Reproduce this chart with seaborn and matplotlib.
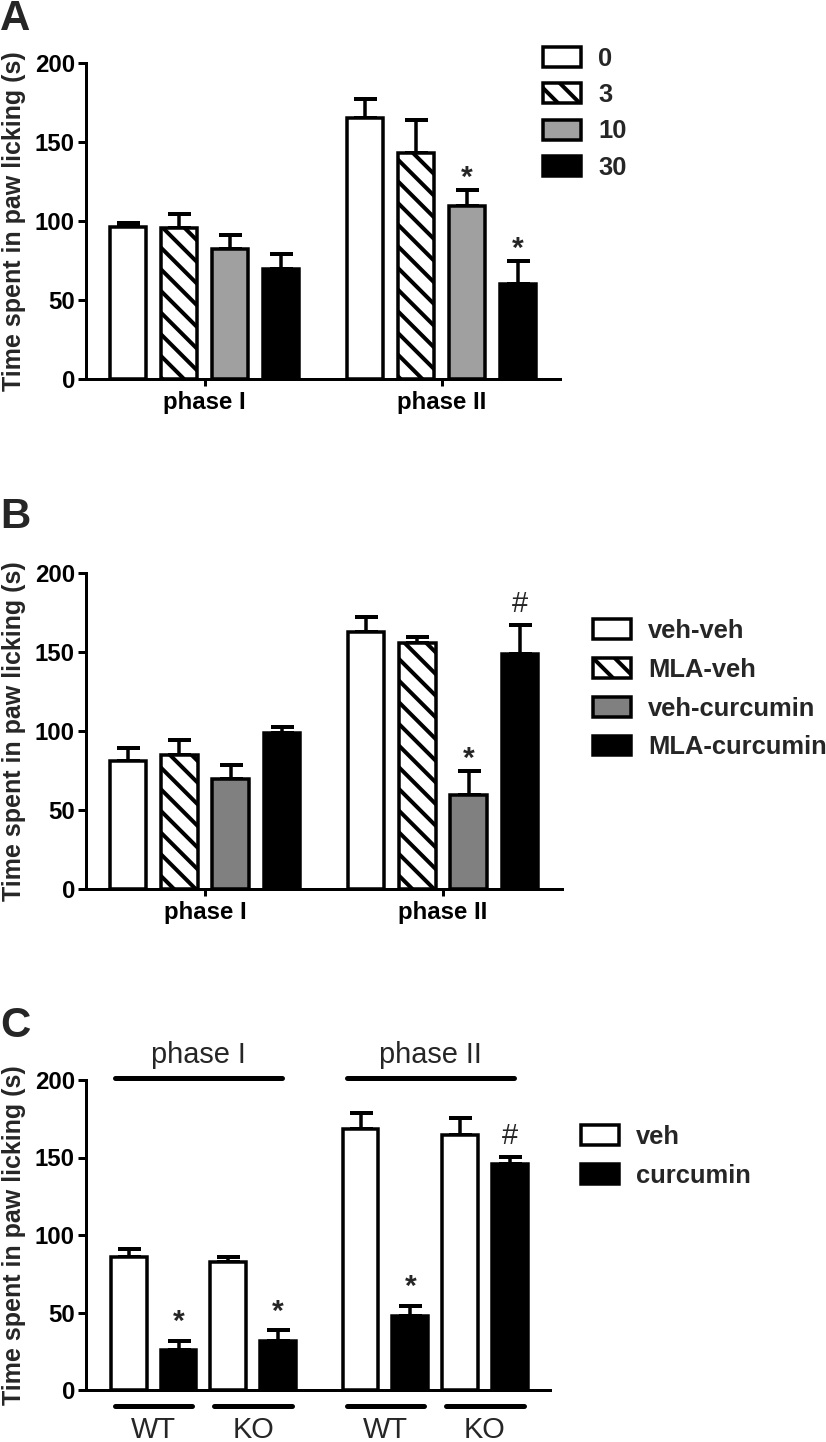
import numpy as np
import pandas as pd
import matplotlib
matplotlib.use('Agg')
import matplotlib.pyplot as plt
from matplotlib.patches import Patch
import seaborn as sns

# ── data ────────────────────────────────────────────────────────────────────
phases = ['phase I', 'phase II']

# panel A: curcumin dose (mg/kg)
doses = ['0', '3', '10', '30']
a_mean_p1 = [96, 95.5, 82, 69.5]
a_mean_p2 = [165, 143, 109.5, 60]
a_sem_p1 = [3, 9, 9, 9.5]
a_sem_p2 = [12, 21, 10, 14.5]
a_marks_p2 = ['', '', '*', '*']

# panel B: MLA pretreatment
treat_b = ['veh-veh', 'MLA-veh', 'veh-curcumin', 'MLA-curcumin']
b_mean_p1 = [81, 84.5, 69.5, 98.5]
b_mean_p2 = [162.5, 155.5, 59.5, 149]
b_sem_p1 = [8.5, 10, 9, 4]
b_sem_p2 = [9.5, 4, 15, 18]
b_marks_p2 = ['', '', '*', '#']

# panel C: WT vs KO, groups = WT/KO in phase I, WT/KO in phase II
treat_c = ['veh', 'curcumin']
c_phase = ['phase I', 'phase I', 'phase II', 'phase II']
c_geno = ['WT', 'KO', 'WT', 'KO']
c_veh_mean = [86, 82.5, 168.5, 164.5]
c_cur_mean = [25.5, 31.5, 48, 145.5]
c_veh_sem = [5, 3.5, 10, 11]
c_cur_sem = [6, 7, 6.5, 5]
c_cur_marks = ['*', '*', '*', '#']

# ── style ───────────────────────────────────────────────────────────────────
DPI = 130
W, H = 826, 1442


def pt(px):
    return px * 72 / DPI


sns.set_theme(style='ticks')
plt.rcParams['font.family'] = ['Liberation Sans', 'DejaVu Sans']
plt.rcParams.update({
    'font.weight': 'bold',
    'axes.labelweight': 'bold',
    'axes.linewidth': pt(3),
    'hatch.linewidth': pt(4),
    'xtick.major.width': pt(3),
    'ytick.major.width': pt(3),
    'xtick.color': 'black',
    'ytick.color': 'black',
    'axes.edgecolor': 'black',
})

EDGE = pt(3.5)
HATCH = '\\\\'
fig = plt.figure(figsize=(W / DPI, H / DPI), dpi=DPI)


def add_axes(left, top, right, bottom):
    return fig.add_axes([left / W, 1 - bottom / H, (right - left) / W, (bottom - top) / H])


def style_y(ax, width_px):
    sns.despine(ax=ax)
    ax.set_ylim(0, 200)
    ax.set_yticks([0, 50, 100, 150, 200])
    ax.tick_params(axis='y', labelsize=pt(24), pad=pt(3), length=pt(8))
    ax.set_ylabel('Time spent in paw licking (s)', fontsize=pt(25))
    ax.yaxis.set_label_coords(-60 / width_px, 0.5)


def add_errors(ax, sems):
    for cont, s in zip(ax.containers, sems):
        xs = [b.get_x() + b.get_width() / 2 for b in cont]
        hs = [b.get_height() for b in cont]
        ax.errorbar(xs, hs, yerr=[np.zeros(len(s)), s], fmt='none', ecolor='black',
                    elinewidth=pt(3.5), capsize=pt(11.5), capthick=pt(4), zorder=0.5)


def add_marks(ax, cont, means, sems, marks, star_off, hash_off):
    for b, m, s, mk in zip(cont, means, sems, marks):
        if not mk:
            continue
        x = b.get_x() + b.get_width() / 2
        if mk == '*':
            ax.text(x, m + s + star_off, mk, ha='center', va='baseline',
                    fontsize=pt(30), fontweight='bold')
        else:
            ax.text(x, m + s + hash_off, mk, ha='center', va='baseline',
                    fontsize=pt(29), fontweight='normal')


def add_legend(ax, labels, colors, hatches, x_px, y_px, spacing):
    handles = [Patch(facecolor=c, edgecolor='black', linewidth=EDGE, hatch=h)
               for c, h in zip(colors, hatches)]
    fs = pt(25.5)
    ax.legend(handles, labels, loc='upper left', bbox_to_anchor=(x_px / W, 1 - y_px / H),
              bbox_transform=fig.transFigure, frameon=False,
              prop=dict(weight='bold', size=fs), handlelength=38 / 25.5,
              handleheight=21 / 25.5, handletextpad=17 / 25.5, labelspacing=spacing,
              borderpad=0, borderaxespad=0)


def phase_panel(ax, levels, mean_p1, mean_p2, sem_p1, sem_p2, colors, marks):
    df = pd.DataFrame({
        'phase': np.repeat(phases, len(levels)),
        'group': levels * 2,
        'time': mean_p1 + mean_p2,
    })
    sns.barplot(data=df, x='phase', y='time', hue='group', hue_order=levels,
                palette=colors, edgecolor='black', linewidth=EDGE, width=0.86, gap=0.29,
                errorbar=None, legend=False, ax=ax, zorder=1)
    for b in ax.containers[1]:
        b.set_hatch(HATCH)
        b.set_facecolor('white')
    sems = [[sem_p1[i], sem_p2[i]] for i in range(len(levels))]
    add_errors(ax, sems)
    for i, cont in enumerate(ax.containers[:len(levels)]):
        add_marks(ax, [cont[1]], [mean_p2[i]], [sem_p2[i]], [marks[i]], 3, 8)
    ax.set_xlim(-0.5, 1.5)
    ax.set_xlabel('')
    ax.tick_params(axis='x', labelsize=pt(24), pad=pt(5), length=pt(7))
    style_y(ax, 474)


# ── A ───────────────────────────────────────────────────────────────────────
colors_a = ['white', 'white', '#a0a0a0', 'black']
ax_a = add_axes(86, 63, 560, 379)
phase_panel(ax_a, doses, a_mean_p1, a_mean_p2, a_sem_p1, a_sem_p2, colors_a, a_marks_p2)
add_legend(ax_a, doses, colors_a, ['', HATCH, '', ''], 543, 47, 0.48)

# ── B ───────────────────────────────────────────────────────────────────────
colors_b = ['white', 'white', '#808080', 'black']
ax_b = add_axes(86, 573, 562, 889)
phase_panel(ax_b, treat_b, b_mean_p1, b_mean_p2, b_sem_p1, b_sem_p2, colors_b, b_marks_p2)
add_legend(ax_b, treat_b, colors_b, ['', HATCH, '', ''], 593, 619, 0.58)

# ── C ───────────────────────────────────────────────────────────────────────
PHASE_STEP = 2.33
ax_c = add_axes(86, 1080, 550, 1390)
df_c = pd.DataFrame({
    'pos': [phases.index(p) * PHASE_STEP + ['WT', 'KO'].index(g) for p, g in zip(c_phase, c_geno)] * 2,
    'treat': np.repeat(treat_c, len(c_geno)),
    'time': c_veh_mean + c_cur_mean,
})
sns.barplot(data=df_c, x='pos', y='time', hue='treat', hue_order=treat_c,
            palette=['white', 'black'], native_scale=True, edgecolor='black',
            linewidth=EDGE, width=1.0, gap=0.28, errorbar=None, legend=False,
            ax=ax_c, zorder=1)
add_errors(ax_c, [c_veh_sem, c_cur_sem])
add_marks(ax_c, ax_c.containers[1], c_cur_mean, c_cur_sem, c_cur_marks, 7, 8)
ax_c.set_xlim(-0.68, 3.985)
ax_c.set_xticks([])
ax_c.set_xlabel('')
style_y(ax_c, 464)

veh_bars, cur_bars = ax_c.containers[0], ax_c.containers[1]
for i, g in enumerate(c_geno):
    left = veh_bars[i].get_x()
    right = cur_bars[i].get_x() + cur_bars[i].get_width()
    ax_c.plot([left + 0.04, right - 0.04], [-10.3, -10.3], color='black', lw=pt(5),
              solid_capstyle='round', clip_on=False)
    ax_c.text((left + right) / 2, -26, g, ha='center', va='center',
              fontsize=pt(29), fontweight='normal')
for j, p in enumerate(phases):
    idx = [i for i, q in enumerate(c_phase) if q == p]
    left = veh_bars[idx[0]].get_x()
    right = cur_bars[idx[-1]].get_x() + cur_bars[idx[-1]].get_width()
    mid = (left + right) / 2 - 0.05
    ax_c.plot([mid - 0.84, mid + 0.84], [201.3, 201.3], color='black', lw=pt(5),
              solid_capstyle='round', clip_on=False)
    ax_c.text(mid, 216, p, ha='center', va='center', fontsize=pt(29), fontweight='normal')
add_legend(ax_c, treat_c, ['white', 'black'], ['', ''], 581, 1125, 0.58)

# ── panel letters ───────────────────────────────────────────────────────────
for letter, base in [('A', 30), ('B', 528), ('C', 1037)]:
    fig.text(0.0, 1 - base / H, letter, fontsize=pt(42), fontweight='bold',
             ha='left', va='baseline')

fig.savefig('out.png', dpi=DPI, facecolor='white')
